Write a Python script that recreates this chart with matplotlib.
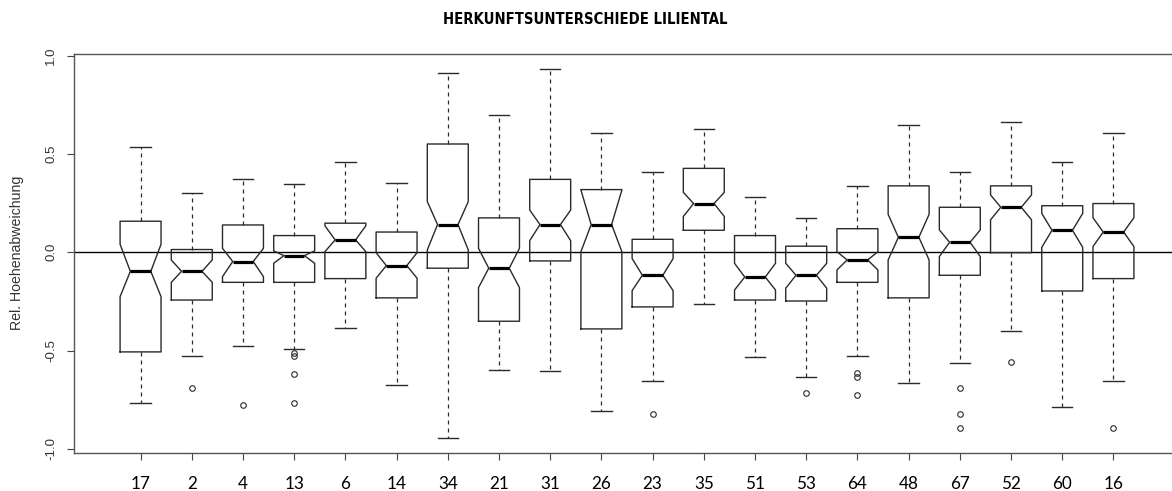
import matplotlib
matplotlib.use("Agg")
import matplotlib.pyplot as plt
from matplotlib import font_manager
from matplotlib.font_manager import FontProperties

# Provenances in plotting order
labels = ["17", "2", "4", "13", "6", "14", "34", "21", "31", "26",
          "23", "35", "51", "53", "64", "48", "67", "52", "60", "16"]

whisker_low = [-0.767, -0.529, -0.475, -0.494, -0.385, -0.677, -0.945, -0.600, -0.606, -0.806,
               -0.655, -0.261, -0.534, -0.636, -0.529, -0.663, -0.563, -0.399, -0.785, -0.655]
q1 = [-0.507, -0.243, -0.153, -0.153, -0.134, -0.232, -0.081, -0.351, -0.044, -0.390,
      -0.278, 0.112, -0.243, -0.248, -0.153, -0.232, -0.117, -0.002, -0.197, -0.134]
median = [-0.097, -0.097, -0.047, -0.017, 0.063, -0.068, 0.141, -0.081, 0.141, 0.141,
          -0.117, 0.248, -0.126, -0.117, -0.039, 0.076, 0.051, 0.229, 0.112, 0.103]
q3 = [0.158, 0.014, 0.139, 0.085, 0.148, 0.103, 0.551, 0.175, 0.371, 0.319,
      0.066, 0.427, 0.085, 0.031, 0.120, 0.338, 0.229, 0.338, 0.237, 0.248]
whisker_high = [0.534, 0.300, 0.371, 0.349, 0.461, 0.355, 0.914, 0.699, 0.933, 0.609,
                0.407, 0.628, 0.283, 0.175, 0.338, 0.646, 0.407, 0.665, 0.461, 0.609]
notch_low = [-0.226, -0.153, -0.124, -0.056, 0.003, -0.132, 0.012, -0.180, 0.059, 0.003,
             -0.195, 0.182, -0.192, -0.183, -0.090, -0.039, -0.022, 0.165, 0.025, 0.029]
notch_high = [0.041, -0.039, 0.020, 0.007, 0.135, -0.002, 0.258, 0.020, 0.215, 0.317,
              -0.032, 0.305, -0.056, -0.056, 0.003, 0.193, 0.114, 0.292, 0.198, 0.176]
outliers = [[], [-0.690], [-0.775], [-0.514, -0.528, -0.617, -0.767], [], [], [], [], [], [],
            [-0.821], [], [], [-0.716], [-0.616, -0.633, -0.724], [], [-0.690, -0.821, -0.892],
            [-0.556], [], [-0.892]]

title = "HERKUNFTSUNTERSCHIEDE LILIENTAL"
ylabel = "Rel. Hoehenabweichung"
yticks = [-1.0, -0.5, 0.0, 0.5, 1.0]


def condensed_bold():
    """Return a bold condensed/narrow sans font if one is installed."""
    for f in font_manager.fontManager.ttflist:
        name = f.name.lower()
        narrowish = ("narrow" in name or "condensed" in name
                     or str(f.stretch).lower() in ("condensed", "semi-condensed", "extra-condensed"))
        weight = f.weight if isinstance(f.weight, int) else 400
        if narrowish and weight >= 600 and "mono" not in name and "serif" not in name:
            return FontProperties(fname=f.fname)
    return FontProperties(family="Liberation Sans", weight="bold")


W, H = 1172, 491
fig = plt.figure(figsize=(W / 100, H / 100), dpi=100)
fig.patch.set_facecolor("white")

left_px, right_px, top_px, bottom_px = 74, 1180, 54, 453.3
ax = fig.add_axes([left_px / W, 1 - bottom_px / H,
                   (right_px - left_px) / W, (bottom_px - top_px) / H])

stats = []
for i in range(len(labels)):
    stats.append(dict(label=labels[i], med=median[i], q1=q1[i], q3=q3[i],
                      whislo=whisker_low[i], whishi=whisker_high[i],
                      cilo=notch_low[i], cihi=notch_high[i], fliers=outliers[i]))

line_col = "#2a2a2a"
positions = list(range(1, len(labels) + 1))
ax.bxp(stats, positions=positions, widths=0.8, shownotches=True,
       boxprops=dict(color=line_col, linewidth=1.0),
       whiskerprops=dict(color=line_col, linewidth=0.9, linestyle=(0, (3.2, 3.2))),
       capprops=dict(color=line_col, linewidth=1.0),
       medianprops=dict(color="black", linewidth=2.3, solid_capstyle="butt"),
       flierprops=dict(marker="o", markersize=4, markerfacecolor="none",
                       markeredgecolor=line_col, markeredgewidth=0.8))

ax.axhline(0, color="black", linewidth=1.0, zorder=0.5)

ax.set_xlim(-0.3, 21.3)
ax.set_ylim(-1.023, 1.009)

ax.set_yticks(yticks)
ax.set_yticklabels([f"{v:.1f}" for v in yticks], rotation=90, va="center",
                   fontsize=9.5, family="Liberation Sans", color="#333333")
ax.tick_params(axis="y", length=5, width=0.8, color="#444444", pad=7)

ax.set_xticks(positions)
ax.set_xticklabels(labels, fontsize=12.3, family="Lato", color="black")
ax.tick_params(axis="x", length=5, width=0.8, color="#444444", pad=11)

for side in ["left", "bottom", "top", "right"]:
    ax.spines[side].set_color("#555555")
    ax.spines[side].set_linewidth(1.0)

# Title: narrow bold face, sized so the line spans about 284 px
tprops = condensed_bold()
tprops.set_size(12.8)
ttl = fig.text(585 / W, 1 - 20 / H, title, ha="center", va="center",
               fontproperties=tprops, color="black")
fig.canvas.draw()
tw = ttl.get_window_extent(renderer=fig.canvas.get_renderer()).width
if tw > 290:
    tprops.set_size(12.8 * 284 / tw)
    ttl.set_fontproperties(tprops)

fig.text(17 / W, 1 - 253 / H, ylabel, rotation=90, ha="center", va="center",
         fontsize=10.2, family="Liberation Sans", color="#333333")

fig.savefig("out.png", dpi=100, facecolor="white")
